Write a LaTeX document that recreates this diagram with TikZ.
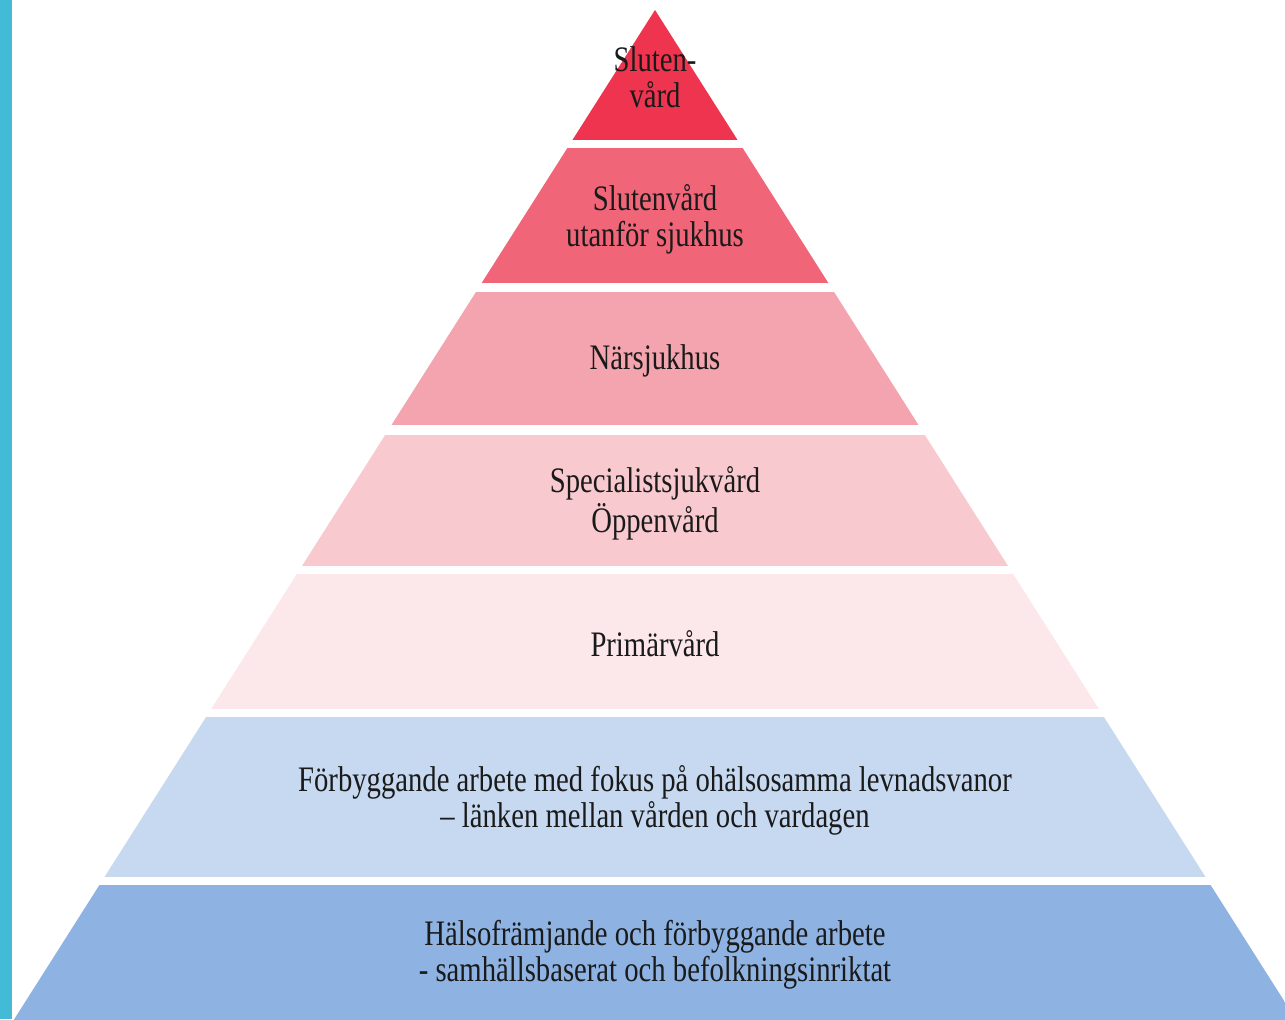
\documentclass[tikz,border=0pt]{standalone}
\usepackage{fontspec}
\setmainfont{Liberation Serif}[FakeStretch=0.8]
\definecolor{barblue}{HTML}{44BBD6}
\definecolor{levelA}{HTML}{EE344E}
\definecolor{levelB}{HTML}{F06578}
\definecolor{levelC}{HTML}{F4A4AE}
\definecolor{levelD}{HTML}{F8CAD0}
\definecolor{levelE}{HTML}{FCE8EB}
\definecolor{levelF}{HTML}{C6D9F0}
\definecolor{levelG}{HTML}{8EB3E2}
\definecolor{labeltext}{HTML}{1A1A1A}
\tikzset{
	label/.style={align=center, text=labeltext, inner sep=0pt,
		font=\fontsize{10.2}{10.3}\selectfont}
}
\begin{document}
\begin{tikzpicture}

	\useasboundingbox (0,0) rectangle (12.85,10.19);
	\fill[white] (0,0) rectangle (12.85,10.19);
	\fill[barblue] (0,0) rectangle (0.12,10.19);

	\begin{scope}
		\clip (6.55,10.09) -- (0.08,-0.1) -- (13.02,-0.1) -- cycle;
		\fill[levelA] (0,8.79) rectangle (12.85,10.19);
		\fill[levelB] (0,7.36) rectangle (12.85,8.71);
		\fill[levelC] (0,5.94) rectangle (12.85,7.27);
		\fill[levelD] (0,4.53) rectangle (12.85,5.84);
		\fill[levelE] (0,3.10) rectangle (12.85,4.45);
		\fill[levelF] (0,1.42) rectangle (12.85,3.02);
		\fill[levelG] (0,-0.1) rectangle (12.85,1.34);
	\end{scope}

	\node[label] (sluten) at (6.55,9.42) {Sluten-\\vård};
	\node[label] (utanfor) at (6.55,8.00) {Slutenvård\\utanför sjukhus};
	\node[label] (narsjukhus) at (6.55,6.58) {Närsjukhus};
	\node[label] (specialist) at (6.55,5.16) {Specialistsjukvård\\Öppenvård};
	\node[label] (primarvard) at (6.55,3.75) {Primärvård};
	\node[label] (levnadsvanor) at (6.55,2.19) {Förbyggande arbete med fokus på ohälsosamma levnadsvanor\\– länken mellan vården och vardagen};
	\node[label] (halsoframjande) at (6.55,0.64) {Hälsofrämjande och förbyggande arbete\\- samhällsbaserat och befolkningsinriktat};

\end{tikzpicture}
\end{document}
